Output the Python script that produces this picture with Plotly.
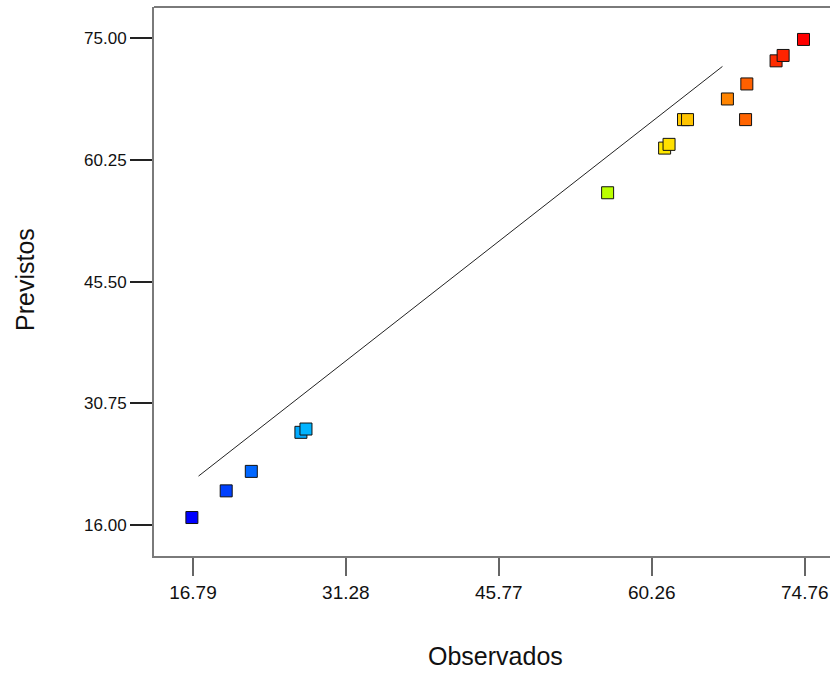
import plotly.graph_objects as go

observed = [16.69, 19.94, 22.32, 27.02, 27.50, 56.08, 61.48, 61.90, 63.27, 63.65,
            69.15, 67.43, 69.27, 72.04, 72.71, 74.64]
predicted = [16.93, 20.16, 22.52, 27.25, 27.65, 56.27, 61.68, 62.13, 65.13, 65.13,
             65.13, 67.63, 69.45, 72.25, 72.90, 74.84]
colors = ["#0000ff", "#0040ff", "#0066ff", "#00aaff", "#00b4ff", "#bbff00",
          "#ffe800", "#ffe000", "#ffc800", "#ffc400", "#ff6400", "#ff8400",
          "#ff6000", "#ff2c00", "#ff2400", "#ff0000"]

line_x = [17.32, 66.96]
line_y = [21.95, 71.57]

x_ticks = [16.79, 31.28, 45.77, 60.26, 74.76]
y_ticks = [16.00, 30.75, 45.50, 60.25, 75.00]

fig = go.Figure()
fig.add_trace(go.Scatter(x=line_x, y=line_y, mode="lines",
                         line=dict(color="#222222", width=1), hoverinfo="skip"))
fig.add_trace(go.Scatter(x=observed, y=predicted, mode="markers",
                         marker=dict(symbol="square", size=12, color=colors,
                                     line=dict(color="#111111", width=1))))

font_family = "Liberation Sans, Arial, sans-serif"
L, R, T, B = 154, 0, 7, 117
W, H = 830, 673
pw = W - L - R
ph = H - T - B

fig.update_layout(
    width=W, height=H,
    margin=dict(l=L, r=R, t=T, b=B),
    paper_bgcolor="white", plot_bgcolor="white",
    showlegend=False,
    font=dict(family=font_family, size=17, color="#111111"),
    xaxis=dict(range=[13.10, 77.15], tickvals=x_ticks,
               ticktext=[f"{v:.2f}" for v in x_ticks],
               showgrid=False, zeroline=False,
               showline=True, linecolor="#7a7a7a", linewidth=2, mirror=False,
               ticks="outside", ticklen=18, tickcolor="#666666", tickwidth=1.5,
               tickfont=dict(size=19, family=font_family)),
    yaxis=dict(range=[12.27, 78.77], tickvals=y_ticks,
               ticktext=[f"{v:.2f}" for v in y_ticks],
               showgrid=False, zeroline=False,
               showline=True, linecolor="#7a7a7a", linewidth=2, mirror=False,
               ticks="outside", ticklen=22, tickcolor="#222222", tickwidth=1.5,
               tickfont=dict(size=17, family=font_family)),
    shapes=[dict(type="line", xref="paper", yref="paper", x0=0, x1=1, y0=1, y1=1,
                 line=dict(color="#7a7a7a", width=2))],
    annotations=[
        dict(text="Observados", x=(495 - L) / pw, y=(H - B - 656) / ph,
             xref="paper", yref="paper", showarrow=False,
             xanchor="center", yanchor="middle",
             font=dict(size=25, family=font_family)),
        dict(text="Previstos", x=(25 - L) / pw, y=(H - B - 280) / ph,
             xref="paper", yref="paper", showarrow=False, textangle=-90,
             xanchor="center", yanchor="middle",
             font=dict(size=25, family=font_family)),
    ],
)

fig.write_html("out.html")
